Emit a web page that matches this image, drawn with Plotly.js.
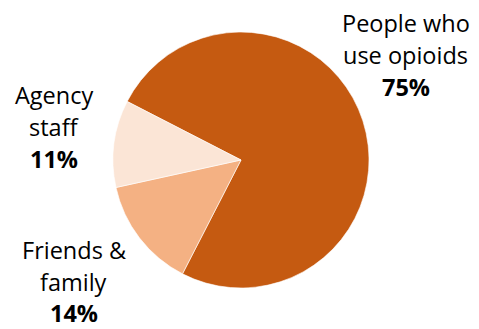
<!DOCTYPE html>
<html>
<head>
<meta charset="utf-8">
<script src="https://cdn.plot.ly/plotly-3.0.1.min.js"></script>
<style>html,body{margin:0;padding:0;background:#fff;}#chart{width:479px;height:329px;}</style>
</head>
<body>
<div id="chart"></div>
<script>
const categories = ["People who use opioids", "Friends & family", "Agency staff"];
const values = [75, 14, 11];
const labelLines = [["People who", "use opioids"], ["Friends &", "family"], ["Agency", "staff"]];
const colors = ["#C55A11", "#F4B183", "#FBE5D6"];

const W = 479, H = 329;
const cx = 241, cy = 160, R = 128;

// label anchor positions (pixel centers of first line) and line spacing
const labelPos = [[405.5, 23], [73.5, 250], [54, 95]];
const lineGap = [32, 32, 32];
const lastGap = [32, 30.5, 32];

const annotations = [];
categories.forEach((c, i) => {
  const [lx, ly] = labelPos[i];
  const lines = labelLines[i].concat(["<b>" + values[i] + "%</b>"]);
  lines.forEach((t, j) => {
    const yy = ly + (j < 2 ? j * lineGap[i] : lineGap[i] + lastGap[i]);
    annotations.push({
      text: t, xref: "paper", yref: "paper",
      x: lx / W, y: 1 - yy / H,
      xanchor: "center", yanchor: "middle", showarrow: false, borderpad: 0,
      font: {family: "Open Sans, sans-serif", size: 23.5, color: "#000"}
    });
  });
});

const data = [{
  type: "pie",
  labels: categories,
  values: values,
  sort: false,
  direction: "clockwise",
  rotation: -62.8,
  marker: {colors: colors, line: {color: "#ffffff", width: 0.6}},
  textinfo: "none",
  hoverinfo: "label+percent",
  showlegend: false,
  domain: {x: [(cx - R) / W, (cx + R) / W], y: [(H - cy - R) / H, (H - cy + R) / H]}
}];

const layout = {
  width: W, height: H,
  margin: {l: 0, r: 0, t: 0, b: 0},
  paper_bgcolor: "#fff",
  showlegend: false,
  annotations: annotations
};

Plotly.newPlot("chart", data, layout, {displayModeBar: false, staticPlot: true});
</script>
</body>
</html>
